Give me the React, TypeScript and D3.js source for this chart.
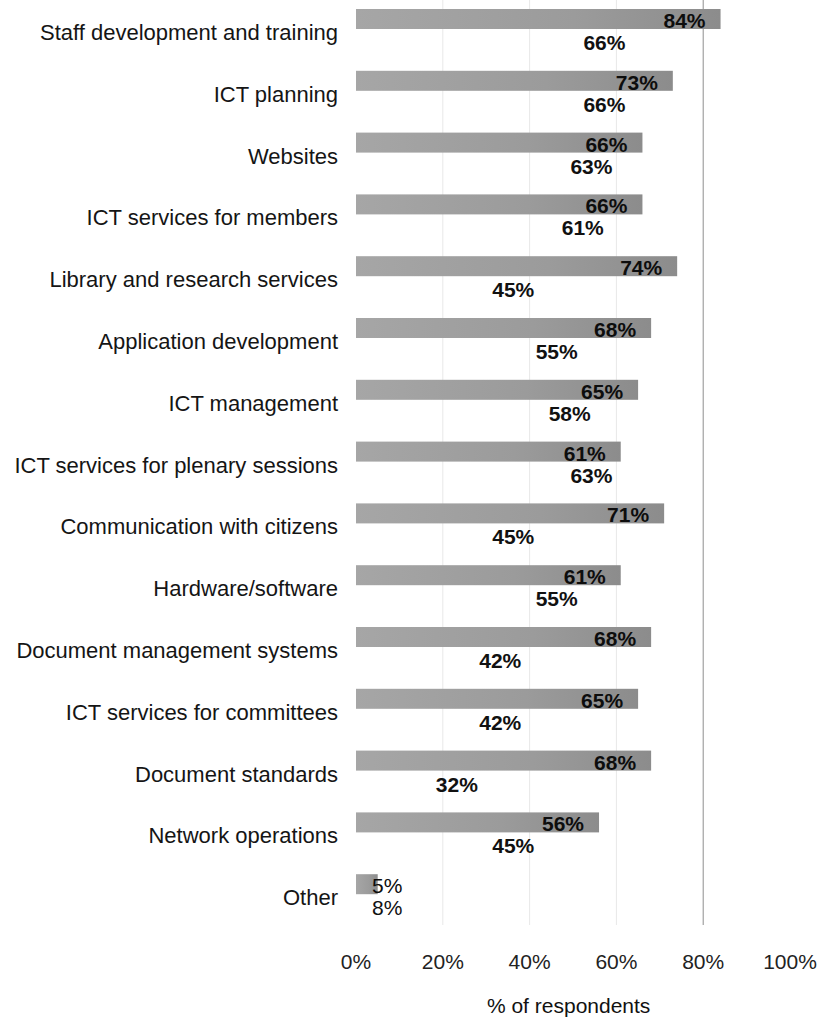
import React from "react";
import * as d3 from "d3";

const categories = [
  "Staff development and training",
  "ICT planning",
  "Websites",
  "ICT services for members",
  "Library and research services",
  "Application development",
  "ICT management",
  "ICT services for plenary sessions",
  "Communication with citizens",
  "Hardware/software",
  "Document management systems",
  "ICT services for committees",
  "Document standards",
  "Network operations",
  "Other",
];
const barValues = [84, 73, 66, 66, 74, 68, 65, 61, 71, 61, 68, 65, 68, 56, 5];
const secondValues = [66, 66, 63, 61, 45, 55, 58, 63, 45, 55, 42, 42, 32, 45, 8];
const tickValues = [0, 20, 40, 60, 80, 100];
const axisTitle = "% of respondents";

const W = 823;
const H = 1021;
const FONT = '"Liberation Sans", Arial, Helvetica, sans-serif';

let ctx: CanvasRenderingContext2D | null = null;
function textWidth(t: string, weight: string, size: number) {
  if (!ctx) ctx = document.createElement("canvas").getContext("2d");
  if (!ctx) return t.length * size * 0.55;
  ctx.font = `${weight} ${size}px "Liberation Sans", Arial, sans-serif`;
  return ctx.measureText(t).width;
}

export default function App() {
  const x = d3.scaleLinear().domain([0, 100]).range([356, 790]);
  const step = 61.8;
  const y = d3
    .scaleBand<string>()
    .domain(categories)
    .range([9, 9 + step * categories.length]);
  const barH = 20;
  const fmt = (v: number) => `${v}%`;
  const labelSize = 21;

  const placeLabel = (v: number, pad: number) => {
    const t = fmt(v);
    const wB = textWidth(t, "bold", labelSize);
    const right = x(v) - pad;
    const minLeft = x(0) + 16;
    if (right - wB < minLeft) {
      return { x: minLeft, anchor: "start", weight: "normal", t };
    }
    return { x: right, anchor: "end", weight: "bold", t };
  };

  return (
    <svg
      width={W}
      height={H}
      style={{ position: "absolute", left: 0, top: 0, background: "#fff" }}
      fontFamily={FONT}
    >
      <defs>
        <linearGradient id="barGrad" x1="0" x2="1" y1="0" y2="0">
          <stop offset="0" stopColor="#a6a6a6" />
          <stop offset="0.6" stopColor="#9b9b9b" />
          <stop offset="1" stopColor="#8c8c8c" />
        </linearGradient>
      </defs>
      {tickValues
        .filter((t) => t > 0 && t < 100)
        .map((t) => (
          <line
            key={`g${t}`}
            x1={x(t)}
            x2={x(t)}
            y1={0}
            y2={925}
            stroke={t === 80 ? "#8f8f8f" : "#e8e8e8"}
            strokeWidth={1}
          />
        ))}
      {categories.map((c, i) => {
        const y0 = y(c) as number;
        const p = placeLabel(barValues[i], 15);
        const s = placeLabel(secondValues[i], 17);
        const clamped = p.anchor === "start";
        const s2 = clamped ? { ...s, x: p.x, anchor: "start", weight: "normal" } : s;
        return (
          <g key={c}>
            <text
              x={338}
              y={y0 + 31}
              textAnchor="end"
              fontSize={22}
              fill="#151515"
            >
              {c}
            </text>
            <rect
              x={x(0)}
              y={y0}
              width={x(barValues[i]) - x(0)}
              height={barH}
              fill="url(#barGrad)"
            />
            <text
              x={p.x}
              y={y0 + 19}
              textAnchor={p.anchor as any}
              fontSize={labelSize}
              fontWeight={p.weight}
              fill="#0d0d0d"
            >
              {p.t}
            </text>
            <text
              x={s2.x}
              y={y0 + 41}
              textAnchor={s2.anchor as any}
              fontSize={labelSize}
              fontWeight={s2.weight}
              fill="#111"
            >
              {s2.t}
            </text>
          </g>
        );
      })}
      {tickValues.map((t) => (
        <text
          key={`t${t}`}
          x={x(t)}
          y={969}
          textAnchor="middle"
          fontSize={21}
          fill="#222"
        >
          {fmt(t)}
        </text>
      ))}
      <text x={x(49)} y={1013} textAnchor="middle" fontSize={21} fill="#111">
        {axisTitle}
      </text>
    </svg>
  );
}
